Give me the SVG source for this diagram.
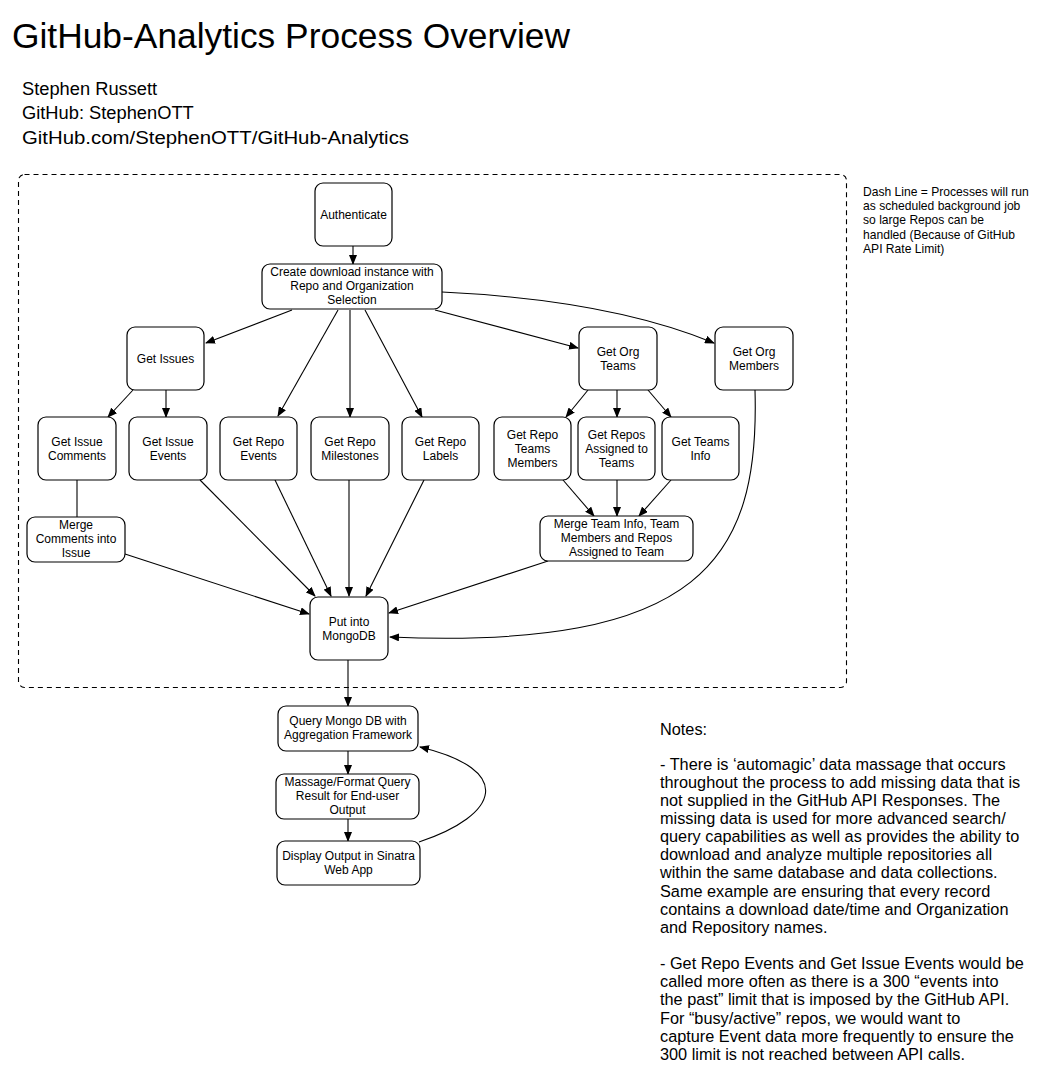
<svg xmlns="http://www.w3.org/2000/svg" width="1044" height="1075" viewBox="0 0 1044 1075">
<style>
text{font-family:"Liberation Sans",Arial,Helvetica,sans-serif;fill:#000}
.n rect{fill:#fff;stroke:#000;stroke-width:1.2}
.n text{font-size:12px;text-anchor:middle}
.c path,.c line{fill:none;stroke:#000;stroke-width:1.1}
.a{marker-end:url(#ah)}
.note{font-size:16.3px}
.dash{font-size:12.1px}
</style>
<defs>
<marker id="ah" markerWidth="10" markerHeight="8" refX="9" refY="4" orient="auto" markerUnits="userSpaceOnUse">
<path d="M0,0 L10,4 L0,8 Z" fill="#000"/>
</marker>
</defs>
<rect width="1044" height="1075" fill="#fff"/>
<text x="12" y="48" font-size="35" textLength="558" lengthAdjust="spacingAndGlyphs">GitHub-Analytics Process Overview</text>
<text x="22" y="95" font-size="18.3">Stephen Russett</text>
<text x="22" y="119" font-size="18.3">GitHub: StephenOTT</text>
<text x="22" y="144" font-size="18.3" textLength="387" lengthAdjust="spacingAndGlyphs">GitHub.com/StephenOTT/GitHub-Analytics</text>
<rect x="18.5" y="174.5" width="828" height="513" rx="6" fill="none" stroke="#000" stroke-width="1.1" stroke-dasharray="5,4"/>
<g class="dash">
<text x="863" y="196">Dash Line = Processes will run</text>
<text x="863" y="210">as scheduled background job</text>
<text x="863" y="224">so large Repos can be</text>
<text x="863" y="239">handled (Because of GitHub</text>
<text x="863" y="253">API Rate Limit)</text>
</g>
<g class="c" id="connectors">
<line class="a" x1="353" y1="246" x2="353" y2="264"/>
<line class="a" x1="292" y1="310" x2="206" y2="343"/>
<line class="a" x1="338" y1="310" x2="278" y2="416"/>
<line class="a" x1="350" y1="310" x2="350" y2="417"/>
<line class="a" x1="365" y1="310" x2="422" y2="417"/>
<line class="a" x1="435" y1="310" x2="578" y2="348"/>
<path class="a" d="M442,292 Q610,300 714,343"/>
<line class="a" x1="133" y1="390" x2="108" y2="417"/>
<line class="a" x1="166" y1="390" x2="166" y2="417"/>
<line x1="77" y1="480" x2="77" y2="517"/>
<line class="a" x1="200" y1="480" x2="315" y2="596"/>
<line class="a" x1="275" y1="480" x2="331" y2="596"/>
<line class="a" x1="349" y1="480" x2="349" y2="596"/>
<line class="a" x1="424" y1="480" x2="366" y2="596"/>
<line class="a" x1="125" y1="554" x2="309" y2="614"/>
<line class="a" x1="588" y1="390" x2="566" y2="417"/>
<line class="a" x1="617" y1="390" x2="617" y2="417"/>
<line class="a" x1="648" y1="390" x2="671" y2="417"/>
<line class="a" x1="563" y1="480" x2="594" y2="516"/>
<line class="a" x1="617" y1="480" x2="617" y2="516"/>
<line class="a" x1="671" y1="480" x2="639" y2="516"/>
<line class="a" x1="548" y1="561" x2="389" y2="613"/>
<path class="a" d="M755,390 C760,560 700,650 390,637"/>
<line class="a" x1="348" y1="660" x2="348" y2="706"/>
<line class="a" x1="348" y1="751" x2="348" y2="774"/>
<line class="a" x1="348" y1="819" x2="348" y2="841"/>
<path class="a" d="M419,842 C500,815 515,770 420,747"/>
</g>
<g class="n" id="authenticate"><rect x="315" y="183" width="77" height="63" rx="8"/><text x="353.5" y="219">Authenticate</text></g>
<g class="n" id="create"><rect x="262" y="264" width="180" height="45" rx="8"/><text x="352" y="276">Create download instance with</text><text x="352" y="290">Repo and Organization</text><text x="352" y="304">Selection</text></g>
<g class="n" id="getIssues"><rect x="127" y="327" width="77" height="63" rx="8"/><text x="165.5" y="363">Get Issues</text></g>
<g class="n" id="getOrgTeams"><rect x="579" y="327" width="78" height="63" rx="8"/><text x="618" y="356">Get Org</text><text x="618" y="370">Teams</text></g>
<g class="n" id="getOrgMembers"><rect x="715" y="327" width="78" height="63" rx="8"/><text x="754" y="356">Get Org</text><text x="754" y="370">Members</text></g>
<g class="n" id="getIssueComments"><rect x="38" y="417" width="78" height="63" rx="8"/><text x="77" y="446">Get Issue</text><text x="77" y="460">Comments</text></g>
<g class="n" id="getIssueEvents"><rect x="129" y="417" width="78" height="63" rx="8"/><text x="168" y="446">Get Issue</text><text x="168" y="460">Events</text></g>
<g class="n" id="getRepoEvents"><rect x="220" y="417" width="77" height="63" rx="8"/><text x="258.5" y="446">Get Repo</text><text x="258.5" y="460">Events</text></g>
<g class="n" id="getRepoMilestones"><rect x="311" y="417" width="78" height="63" rx="8"/><text x="350" y="446">Get Repo</text><text x="350" y="460">Milestones</text></g>
<g class="n" id="getRepoLabels"><rect x="402" y="417" width="77" height="63" rx="8"/><text x="440.5" y="446">Get Repo</text><text x="440.5" y="460">Labels</text></g>
<g class="n" id="getRepoTeamsMembers"><rect x="494" y="417" width="77" height="63" rx="8"/><text x="532.5" y="439">Get Repo</text><text x="532.5" y="453">Teams</text><text x="532.5" y="467">Members</text></g>
<g class="n" id="getReposAssigned"><rect x="578" y="417" width="77" height="63" rx="8"/><text x="616.5" y="439">Get Repos</text><text x="616.5" y="453">Assigned to</text><text x="616.5" y="467">Teams</text></g>
<g class="n" id="getTeamsInfo"><rect x="662" y="417" width="77" height="63" rx="8"/><text x="700.5" y="446">Get Teams</text><text x="700.5" y="460">Info</text></g>
<g class="n" id="mergeComments"><rect x="27" y="517" width="98" height="45" rx="8"/><text x="76" y="529">Merge</text><text x="76" y="543">Comments into</text><text x="76" y="557">Issue</text></g>
<g class="n" id="mergeTeam"><rect x="540" y="516" width="153" height="45" rx="8"/><text x="616.5" y="528">Merge Team Info, Team</text><text x="616.5" y="542">Members and Repos</text><text x="616.5" y="556">Assigned to Team</text></g>
<g class="n" id="mongo"><rect x="310" y="597" width="78" height="63" rx="8"/><text x="349" y="626">Put into</text><text x="349" y="640">MongoDB</text></g>
<g class="n" id="query"><rect x="278" y="706" width="140" height="45" rx="8"/><text x="348" y="725">Query Mongo DB with</text><text x="348" y="739">Aggregation Framework</text></g>
<g class="n" id="massage"><rect x="276" y="774" width="143" height="45" rx="8"/><text x="347.5" y="786">Massage/Format Query</text><text x="347.5" y="800">Result for End-user</text><text x="347.5" y="814">Output</text></g>
<g class="n" id="display"><rect x="277" y="841" width="143" height="44" rx="8"/><text x="348.5" y="860">Display Output in Sinatra</text><text x="348.5" y="874">Web App</text></g>
<g class="note">
<text x="660" y="735">Notes:</text>
<text x="660" y="770">- There is ‘automagic’ data massage that occurs</text>
<text x="660" y="788">throughout the process to add missing data that is</text>
<text x="660" y="806">not supplied in the GitHub API Responses.  The</text>
<text x="660" y="824">missing data is used for more advanced search/</text>
<text x="660" y="842">query capabilities as well as provides the ability to</text>
<text x="660" y="860">download and analyze multiple repositories all</text>
<text x="660" y="878">within the same database and data collections.</text>
<text x="660" y="897">Same example are ensuring that every record</text>
<text x="660" y="915">contains a download date/time and Organization</text>
<text x="660" y="933">and Repository names.</text>
<text x="660" y="969">- Get Repo Events and Get Issue Events would be</text>
<text x="660" y="987">called more often as there is a 300 “events into</text>
<text x="660" y="1005">the past” limit that is imposed by the GitHub API.</text>
<text x="660" y="1024">For “busy/active” repos, we would want to</text>
<text x="660" y="1042">capture Event data more frequently to ensure the</text>
<text x="660" y="1060">300 limit is not reached between API calls.</text>
</g>
</svg>
